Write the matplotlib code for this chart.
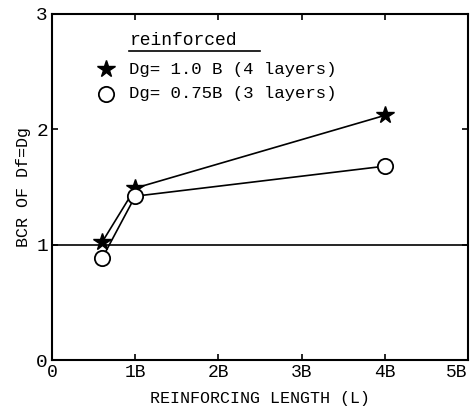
import matplotlib.pyplot as plt

# reinforcing length in units of B
length = [0.6, 1.0, 4.0]
bcr_4layers = [1.02, 1.49, 2.12]   # Dg = 1.0 B
bcr_3layers = [0.88, 1.42, 1.68]   # Dg = 0.75 B

xticks = [0, 1, 2, 3, 4, 5]
xtick_labels = ["0", "1B", "2B", "3B", "4B", "5B"]
yticks = [0, 1, 2, 3]

plt.rcParams["font.family"] = ["Liberation Mono", "DejaVu Sans Mono"]

fig = plt.figure(figsize=(4.74, 4.15), dpi=100)
ax = fig.add_axes([0.110, 0.1325, 0.877, 0.834])

ax.axhline(1.0, color="black", lw=1.2, zorder=1)
ax.plot(length, bcr_4layers, color="black", lw=1.2, marker="*", ms=13,
        mfc="black", mec="black", zorder=3)
ax.plot(length, bcr_3layers, color="black", lw=1.2, marker="o", ms=11,
        mfc="white", mec="black", mew=1.3, zorder=4)

ax.set_xlim(0, 5)
ax.set_ylim(0, 3)
ax.set_xticks(xticks)
ax.set_xticklabels(xtick_labels, fontsize=13)
ax.set_yticks(yticks)
ax.set_yticklabels([str(v) for v in yticks], fontsize=14)
ax.tick_params(direction="in", top=True, right=True, length=4, width=1.2, pad=3)
ax.get_xticklabels()[-1].set_horizontalalignment("right")
for s in ax.spines.values():
    s.set_linewidth(1.5)

ax.set_xlabel("REINFORCING LENGTH (L)", fontsize=12, labelpad=7)
ax.set_ylabel("BCR OF Df=Dg", fontsize=12, labelpad=4)

# legend drawn as text block
ax.text(0.93, 2.77, "reinforced", fontsize=13, ha="left", va="center")
ax.plot([0.93, 2.5], [2.68, 2.68], color="black", lw=1.2)
ax.plot([0.65], [2.52], marker="*", ms=13, color="black", ls="none")
ax.plot([0.65], [2.31], marker="o", ms=11, mfc="white", mec="black", mew=1.3, ls="none")
ax.text(0.92, 2.52, "Dg= 1.0 B (4 layers)", fontsize=12.5, ha="left", va="center")
ax.text(0.92, 2.31, "Dg= 0.75B (3 layers)", fontsize=12.5, ha="left", va="center")

fig.savefig("out.png", dpi=100)
